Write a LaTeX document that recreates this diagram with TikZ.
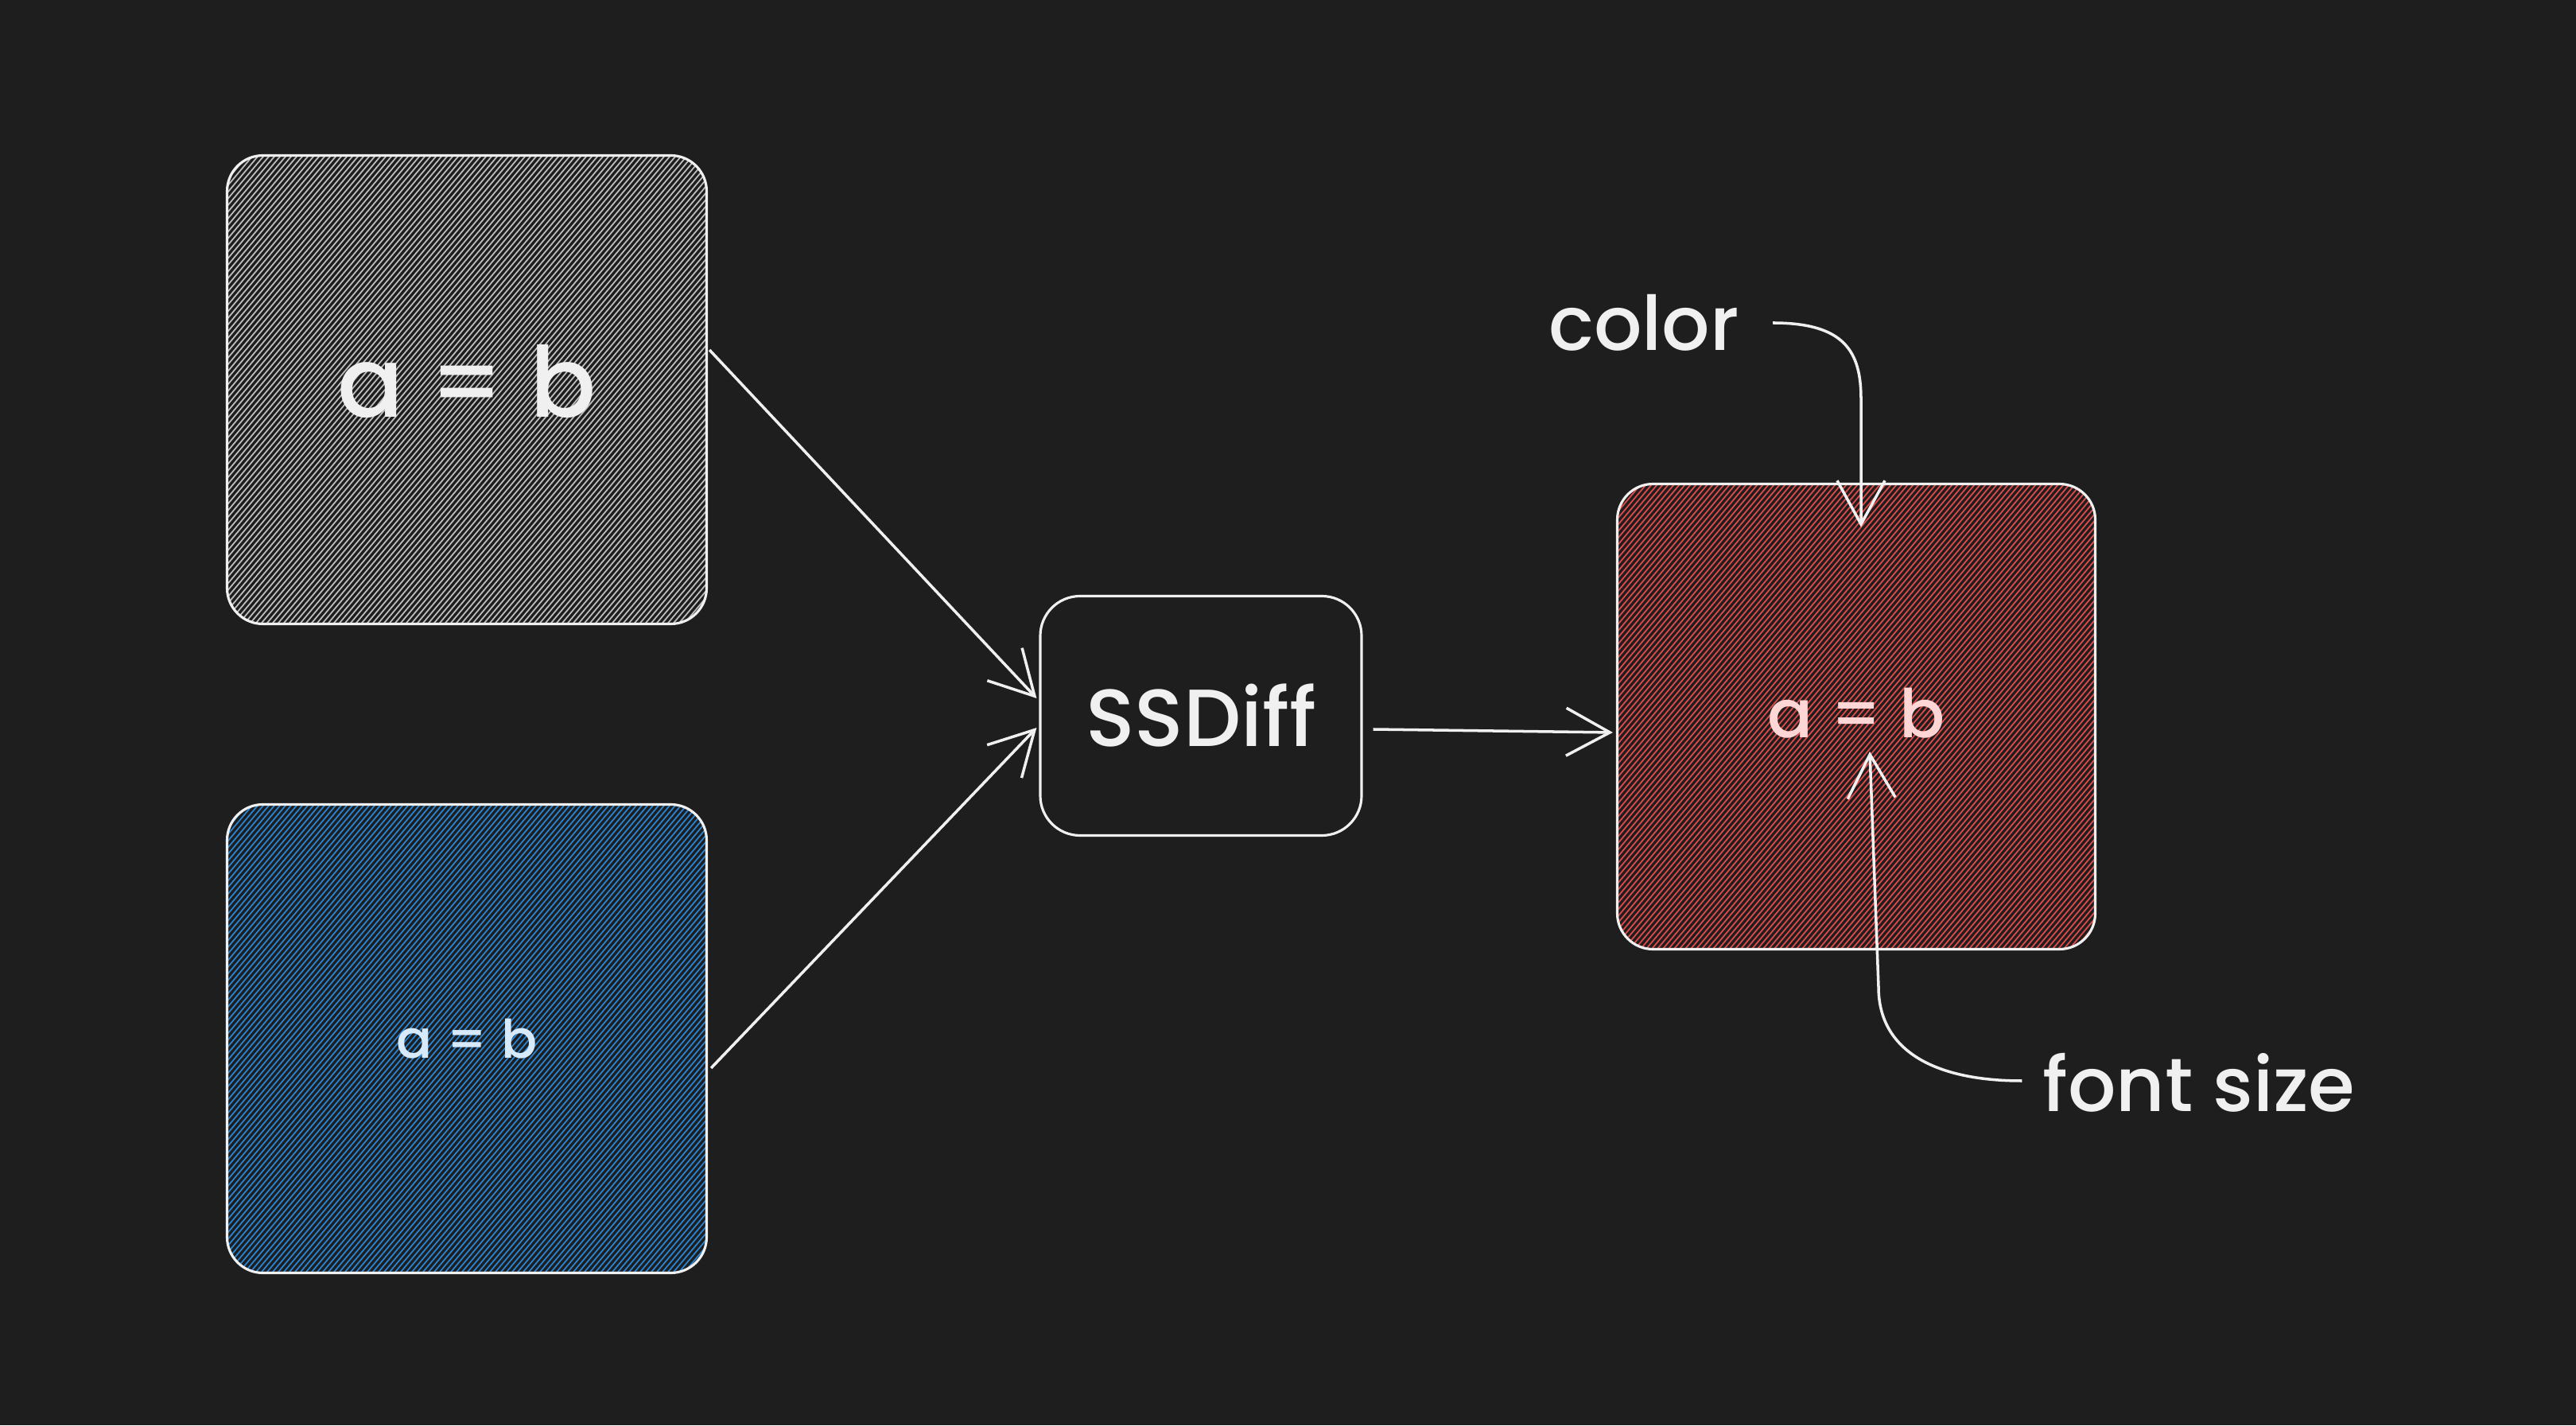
\documentclass[tikz,border=0pt]{standalone}
\usepackage{fontspec}
\setmainfont{Poppins}[UprightFont=* Medium]
\usetikzlibrary{calc,positioning,arrows.meta}
\definecolor{bgdark}{RGB}{30,30,30}
\definecolor{inkwhite}{RGB}{240,240,240}
\definecolor{hatchgray}{RGB}{190,190,190}
\definecolor{hatchblue}{RGB}{40,132,212}
\definecolor{hatchred}{RGB}{226,74,74}
\definecolor{textblue}{RGB}{214,234,252}
\definecolor{textred}{RGB}{255,214,214}
\tikzset{
  sketchbox/.style={draw=inkwhite, line width=0.9pt, rounded corners=0.45cm, minimum width=6.03cm, minimum height=5.89cm, inner sep=0pt},
  hachure/.style={path picture={
    \foreach \t in {-6,-5.93,...,6}{
      \draw[#1, line width=0.5pt] ($(path picture bounding box.center)+(\t,0)+(230:5)$) -- ++(50:10);
    }}},
  flow/.style={draw=inkwhite, line width=1pt, -{Straight Barb[length=5.5mm, width=6mm]}},
  note/.style={text=inkwhite, font=\fontsize{27}{32}\selectfont},
}
\begin{document}
\begin{tikzpicture}
	\fill[bgdark] (0,0) rectangle (32.39,17.92);
	\useasboundingbox (0,0) rectangle (32.39,17.92);
	\node[sketchbox, hachure=hatchgray, text=inkwhite, font=\fontsize{35}{40}\selectfont] at (5.87,13.02) (gray) {\raisebox{0.23cm}{a = b}};
	\node[sketchbox, hachure=hatchblue, text=textblue, font=\fontsize{19}{24}\selectfont] at (5.87,4.86) (blue) {a = b};
	\node[sketchbox, minimum width=4.04cm, minimum height=3.01cm, rounded corners=0.5cm, text=inkwhite, font=\fontsize{29}{34}\selectfont] at (15.10,8.92) (ssdiff) {SSDiff};
	\node[sketchbox, minimum width=6.01cm, minimum height=5.85cm, hachure=hatchred, text=textred, font=\fontsize{24}{29}\selectfont] at (23.34,8.91) (red) {\raisebox{0.1cm}{a = b}};
	\node[note] at (20.67,13.86) (colorlbl) {color};
	\node[note] at (27.65,4.31) (sizelbl) {font size};
	% inputs into SSDiff
	\draw[flow] ($(gray.east)+(0.02,0.5)$) -- ($(ssdiff.west)+(-0.03,0.22)$);
	\draw[flow] ($(blue.east)+(0.04,-0.37)$) -- ($(ssdiff.west)+(-0.03,-0.15)$);
	\draw[flow] ($(ssdiff.east)+(0.13,-0.17)$) -- ($(red.west)+(-0.04,-0.2)$);
	% annotations
	\draw[flow] ($(colorlbl.east)+(0.3,0)$) .. controls +(0.9,0) and +(0,0.6) .. ($(red.north)+(0.06,1.05)$) -- ($(red.north)+(0.06,-0.56)$);
	\draw[flow] ($(sizelbl.west)+(-0.14,0.02)$) .. controls +(-1.1,0) and +(0,-0.8) .. ($(red.center)+(0.28,-3.4)$) -- ($(red.center)+(0.17,-0.44)$);
\end{tikzpicture}
\end{document}
